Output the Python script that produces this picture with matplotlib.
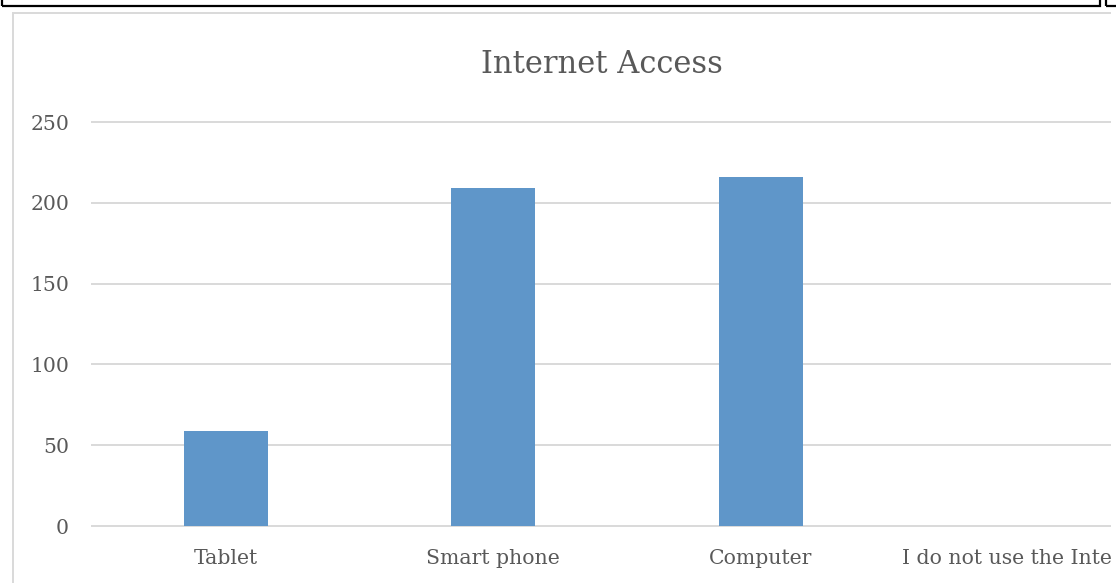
import matplotlib
matplotlib.use("Agg")
import matplotlib.pyplot as plt
from matplotlib.patches import Rectangle

categories = ["Tablet", "Smart phone", "Computer", "I do not use the Internet"]
counts = [59, 209, 216, 0]
y_ticks = [0, 50, 100, 150, 200, 250]

W, H = 1116, 583
fig = plt.figure(figsize=(W / 100, H / 100), dpi=100)
plt.rcParams['font.family'] = ['DejaVu Serif']
txt = '#595959'
grid_c = '#D9D9D9'

def px(x0, y0, w, h):
    # pixel box (top-left origin) -> figure fraction
    return [x0 / W, 1 - (y0 + h) / H, w / W, h / H]

ax = fig.add_axes(px(92, 122, 1019, 404))
slot = 267.5
ax.bar(range(len(categories)), counts, width=0.314, color='#5F96C9', zorder=3)
ax.set_xlim(-0.5, -0.5 + 1019 / slot)
ax.set_ylim(0, 250)
ax.set_yticks(y_ticks)
ax.set_xticks(range(len(categories)))
ax.set_xticklabels(categories)
for s in ax.spines.values():
    s.set_visible(False)
ax.tick_params(axis='both', length=0, labelsize=14.7, colors=txt)
ax.tick_params(axis='y', pad=16.5)
ax.tick_params(axis='x', pad=16.5)
for y in y_ticks:
    ax.axhline(y, color=grid_c, lw=1.4, zorder=1, clip_on=False)
ax.set_title("Internet Access", fontsize=22, color=txt, pad=35)

# chart frame
fig.patches.append(Rectangle((13 / W, -0.1), 1.2, 1 - 13 / H + 0.1, transform=fig.transFigure,
                             fill=False, edgecolor=grid_c, lw=1.4, zorder=0))
# hide everything right of the crop edge
fig.patches.append(Rectangle((1111 / W, 0), 1, 1 - 10 / H, transform=fig.transFigure,
                             facecolor='white', edgecolor='none', zorder=10))
# black boxes at the top
fig.patches.append(Rectangle((2 / W, 1 - 6 / H), 1098 / W, 0.1, transform=fig.transFigure,
                             fill=False, edgecolor='black', lw=1.6, zorder=11))
fig.patches.append(Rectangle((1106 / W, 1 - 6 / H), 0.1, 0.1, transform=fig.transFigure,
                             fill=False, edgecolor='black', lw=1.6, zorder=11))

fig.savefig("out.png", dpi=100)
